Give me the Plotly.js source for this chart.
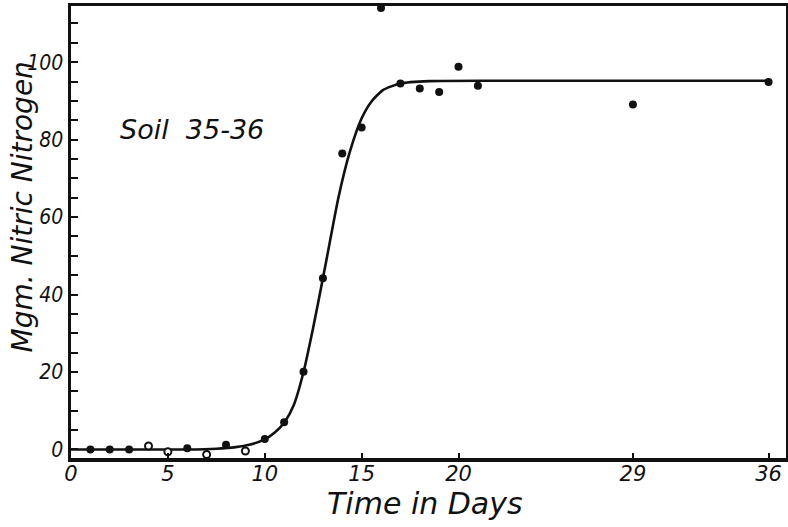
<!DOCTYPE html>
<html>
<head>
<meta charset="utf-8">
<script src="https://cdn.plot.ly/plotly-3.0.1.min.js"></script>
<style>
  html, body { margin: 0; padding: 0; background: #fff; }
  #chart { width: 788px; height: 527px; }
</style>
</head>
<body>
<div id="chart"></div>
<script>
// Observed nitric nitrogen (mg) by day, filled markers
const solidDays = [1, 2, 3, 6, 8, 10, 11, 12, 13, 14, 15, 16, 17, 18, 19, 20, 21, 29, 36];
const solidValues = [0, 0, 0, 0.3, 1.2, 2.7, 7.0, 20.1, 44.2, 76.4, 83.1, 114, 94.5, 93.2, 92.3, 98.8, 93.9, 89.1, 94.9];

// Observations drawn as open circles
const openDays = [4, 5, 7, 9];
const openValues = [0.9, -0.6, -1.3, -0.4];

// Hand-fitted nitrification curve
const curveDays = [0, 2, 4, 6, 7.5, 8.5, 9.2, 10, 10.5, 11, 11.5, 12, 12.5, 13, 13.3, 13.8, 14.4, 15, 15.5, 16.1, 17, 18.5, 22, 29, 36];
const curveValues = [0, 0, 0, 0, 0.2, 0.6, 1.2, 2.6, 4.3, 6.9, 11.5, 20, 31.5, 44.2, 52, 65, 77, 85.5, 89.8, 92.8, 94.5, 95.1, 95.2, 95.2, 95.2];

const xTicks = [0, 5, 10, 15, 20, 29, 36];
const yTicks = [0, 20, 40, 60, 80, 100];

const ink = '#111';
const hand = {family: 'DejaVu Sans, sans-serif', color: ink, style: 'italic'};
const narrow = 'DejaVu Sans Condensed, Liberation Sans Narrow, DejaVu Sans, sans-serif';

const traces = [
  {
    x: curveDays, y: curveValues, type: 'scatter', mode: 'lines',
    line: {color: ink, width: 2.6, shape: 'spline', smoothing: 0.6},
    hoverinfo: 'skip'
  },
  {
    x: solidDays, y: solidValues, type: 'scatter', mode: 'markers',
    marker: {color: ink, size: 8, line: {width: 0}},
    cliponaxis: false
  },
  {
    x: openDays, y: openValues, type: 'scatter', mode: 'markers',
    marker: {color: '#fff', size: 7, line: {color: ink, width: 2}},
    cliponaxis: false
  }
];

const layout = {
  width: 788, height: 527,
  margin: {l: 71, r: 2, t: 6, b: 69},
  paper_bgcolor: '#fff', plot_bgcolor: '#fff',
  showlegend: false,
  font: hand,
  xaxis: {
    range: [0, 36.9],
    tickmode: 'array', tickvals: xTicks, ticktext: xTicks.map(String),
    ticks: 'inside', ticklen: 5, tickwidth: 2, tickcolor: ink,
    ticklabelstandoff: -6,
    showline: true, linecolor: ink, linewidth: 3.5, mirror: true,
    showgrid: false, zeroline: false,
    tickfont: {family: hand.family, style: 'italic', size: 21, color: ink}
  },
  yaxis: {
    range: [-2.2, 114.5],
    tickmode: 'array', tickvals: yTicks, ticktext: yTicks.map(String),
    ticks: 'inside', ticklen: 7, tickwidth: 2, tickcolor: ink,
    minor: {dtick: 5, tick0: 0, ticks: 'inside', ticklen: 7, tickwidth: 2, tickcolor: ink, showgrid: false},
    showline: true, linecolor: ink, linewidth: 3.5, mirror: true,
    showgrid: false, zeroline: false,
    tickfont: {family: narrow, style: 'italic', size: 21, color: ink}
  },
  annotations: [
    {
      text: 'Time in Days', xref: 'paper', yref: 'paper',
      x: 0.495, y: -0.1, xanchor: 'center', yanchor: 'middle', showarrow: false,
      font: {family: hand.family, style: 'italic', size: 30, color: ink}
    },
    {
      text: 'Mgm. Nitric Nitrogen', xref: 'paper', yref: 'paper',
      x: -0.068, y: 0.555, xanchor: 'center', yanchor: 'middle', showarrow: false,
      textangle: -90,
      font: {family: hand.family, style: 'italic', size: 28, color: ink}
    },
    {
      text: 'Soil  35-36', xref: 'x', yref: 'y',
      x: 2.4, y: 82.5, xanchor: 'left', yanchor: 'middle', showarrow: false,
      font: {family: hand.family, style: 'italic', size: 27, color: ink}
    }
  ]
};

Plotly.newPlot('chart', traces, layout, {displayModeBar: false, staticPlot: true});
</script>
</body>
</html>
